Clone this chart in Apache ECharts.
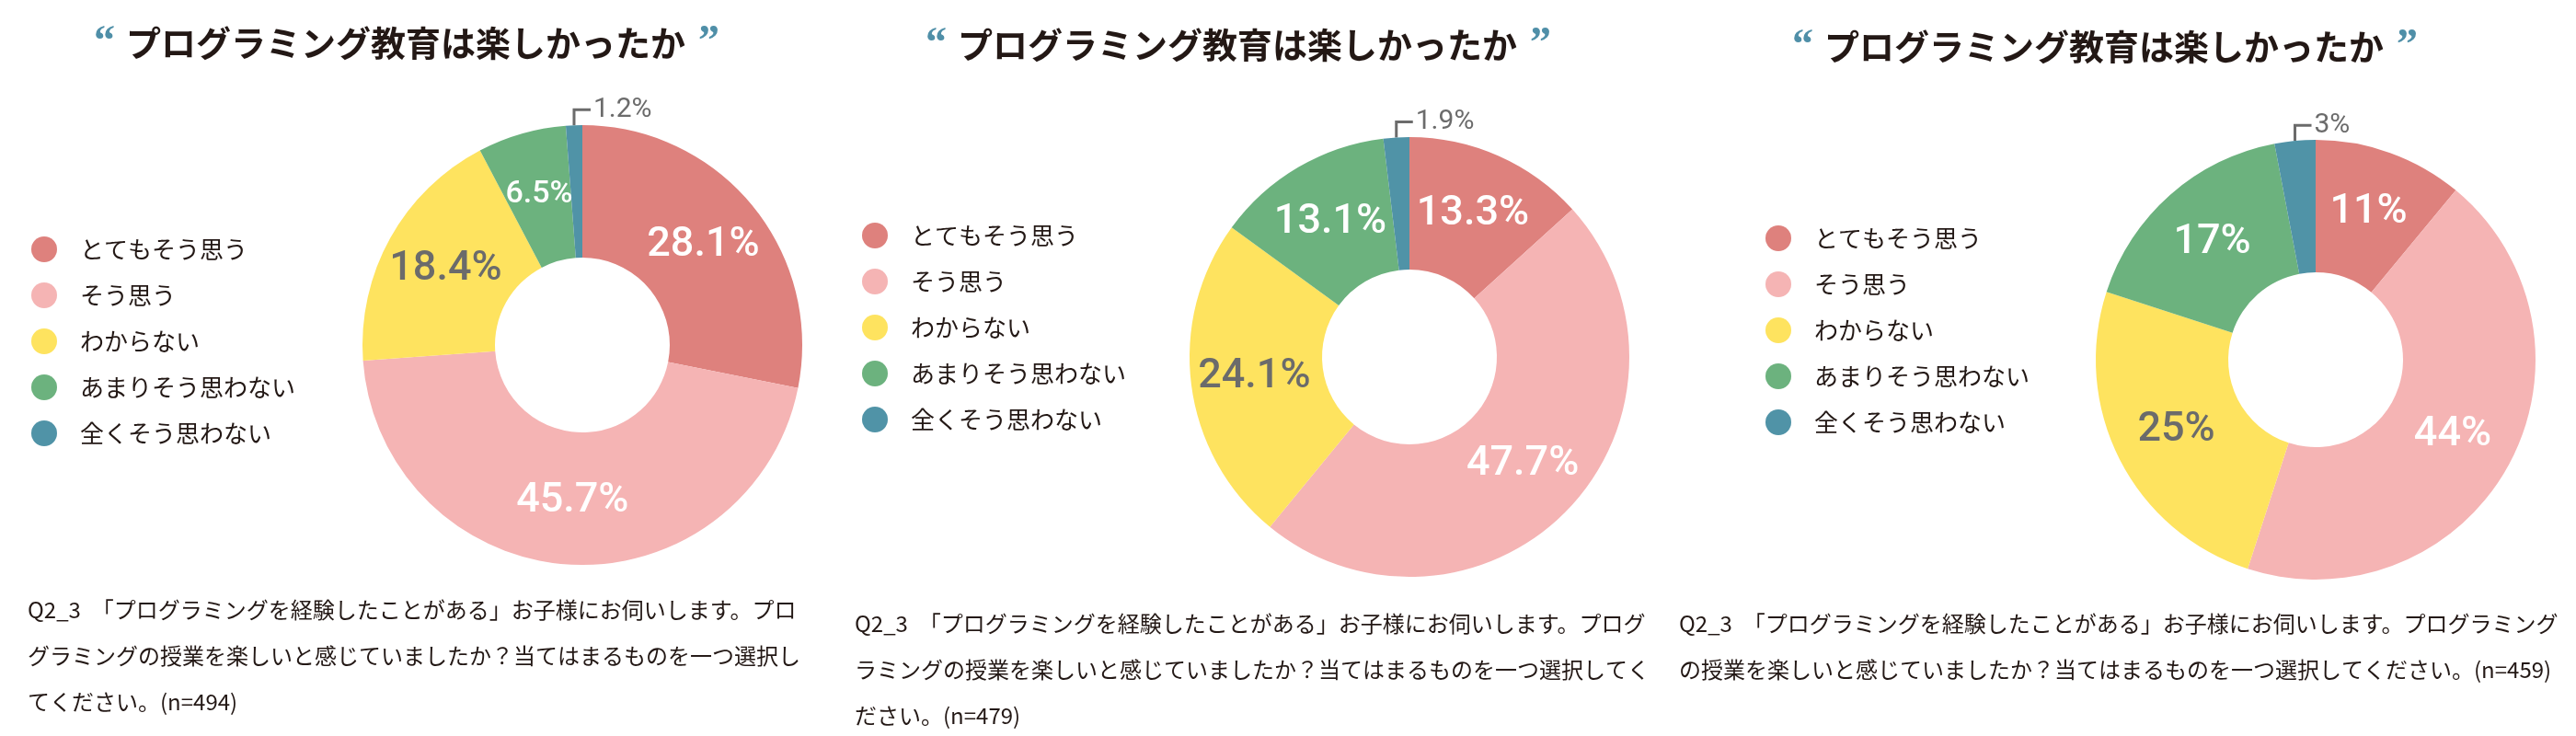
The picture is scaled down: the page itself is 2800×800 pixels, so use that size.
<!DOCTYPE html>
<html>
<head>
<meta charset="utf-8">
<script src="https://cdn.jsdelivr.net/npm/echarts@6/dist/echarts.min.js"></script>
<style>
  html, body { margin: 0; padding: 0; background: #fff; }
  #main { width: 2800px; height: 800px; }
</style>
</head>
<body>
<div id="main"></div>
<script>
// 選択肢
var categories = ["とてもそう思う", "そう思う", "わからない", "あまりそう思わない", "全くそう思わない"];
// 各グラフの割合(%)
var values1 = [28.1, 45.7, 18.4, 6.5, 1.2];
var values2 = [13.3, 47.7, 24.1, 13.1, 1.9];
var values3 = [11, 44, 25, 17, 3];
var titleText = "プログラミング教育は楽しかったか";
var question1 = [
  "Q2_3　「プログラミングを経験したことがある」お子様にお伺いします。プロ",
  "グラミングの授業を楽しいと感じていましたか？当てはまるものを一つ選択し",
  "てください。(n=494)"
];
var question2 = [
  "Q2_3　「プログラミングを経験したことがある」お子様にお伺いします。プログ",
  "ラミングの授業を楽しいと感じていましたか？当てはまるものを一つ選択してく",
  "ださい。(n=479)"
];
var question3 = [
  "Q2_3　「プログラミングを経験したことがある」お子様にお伺いします。プログラミング",
  "の授業を楽しいと感じていましたか？当てはまるものを一つ選択してください。(n=459)"
];

var colors = ["#de817d", "#f5b4b4", "#fee35f", "#6cb27e", "#5093a7"];
var jpFont = "'Noto Sans CJK JP', sans-serif";
var numFont = "Roboto, 'Liberation Sans', sans-serif";
var quoteFont = "'Liberation Serif', 'DejaVu Serif', serif";
var gray = "#6b6b6b";
var ink = "#231815";

var myChart = echarts.init(document.getElementById("main"));

function makeTitle(left, top) {
  return {
    text: "{o|“}{t|" + titleText + "}{c|”}",
    left: left,
    top: top,
    padding: 0,
    textStyle: {
      rich: {
        o: { fontFamily: quoteFont, fontWeight: "bold", fontSize: 46, color: "#4f8fa8", padding: [0, 12, 0, 0] },
        t: { fontFamily: jpFont, fontWeight: "bold", fontSize: 38, color: ink },
        c: { fontFamily: quoteFont, fontWeight: "bold", fontSize: 46, color: "#4f8fa8", padding: [0, 0, 0, 14] }
      }
    }
  };
}

function makeLegend(left, top) {
  return {
    data: categories,
    orient: "vertical",
    left: left,
    top: top,
    icon: "circle",
    itemWidth: 28,
    itemHeight: 28,
    itemGap: 22,
    selectedMode: false,
    textStyle: { fontFamily: jpFont, fontSize: 26, color: ink, padding: [0, 0, 0, 20] }
  };
}

function makeSeries(values, center) {
  var data = values.map(function (v, i) {
    var item = { name: categories[i], value: v, itemStyle: { color: colors[i] } };
    if (i === 2) {
      item.label = { color: gray };
    }
    if (i === categories.length - 1) {
      // 小さい割合は外側にカギ型の引き出し線
      item.label = { position: "outside", color: gray, fontSize: 30, fontWeight: "normal" };
      item.labelLine = { show: true, length: 17, length2: 18, smooth: false, lineStyle: { color: gray, width: 3 } };
    } else if (v < 10) {
      item.label = Object.assign(item.label || {}, { fontSize: 34 });
    }
    return item;
  });
  return {
    type: "pie",
    center: center,
    radius: [95, 239],
    startAngle: 90,
    clockwise: true,
    avoidLabelOverlap: false,
    animation: false,
    emphasis: { disabled: true },
    label: {
      show: true,
      position: "inside",
      formatter: "{c}%",
      color: "#fff",
      fontFamily: numFont,
      fontSize: 45,
      fontWeight: 500
    },
    labelLine: { show: false },
    labelLayout: function (params) {
      var pts = params.labelLinePoints;
      if (params.dataIndex !== categories.length - 1 || !pts) {
        return {};
      }
      var p0 = pts[0];
      var p1 = [p0[0], pts[1][1]];
      var p2 = [p1[0] + 18, p1[1]];
      return {
        x: p2[0] + 3,
        y: p2[1],
        align: "left",
        verticalAlign: "middle",
        labelLinePoints: [p0, p1, p2]
      };
    },
    data: data
  };
}

function makeQuestion(x, y, lines) {
  return {
    type: "text",
    left: x,
    top: y,
    style: {
      text: lines.join("\n"),
      font: "24px " + jpFont,
      fill: ink,
      lineHeight: 50
    }
  };
}

var option = {
  backgroundColor: "#fff",
  title: [makeTitle(102, 24), makeTitle(1006, 26), makeTitle(1948, 28)],
  legend: [makeLegend(29, 252), makeLegend(932, 237), makeLegend(1914, 240)],
  series: [
    makeSeries(values1, [633, 375]),
    makeSeries(values2, [1532, 388]),
    makeSeries(values3, [2517, 391])
  ],
  graphic: [
    makeQuestion(30, 638, question1),
    makeQuestion(929, 653, question2),
    makeQuestion(1825, 653, question3)
  ]
};

myChart.setOption(option);
</script>
</body>
</html>
